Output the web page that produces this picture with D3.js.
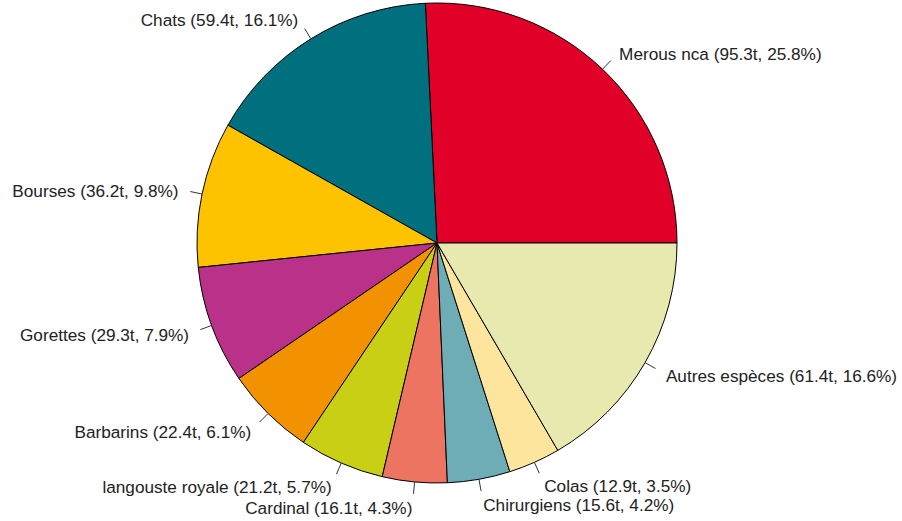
<!DOCTYPE html>
<html><head><meta charset="utf-8">
<script src="https://cdn.jsdelivr.net/npm/d3@7"></script>
<style>body{margin:0;background:#fff}</style>
</head><body>
<svg id="c" width="902" height="521"></svg>
<script>
const categories = ["Merous nca","Chats","Bourses","Gorettes","Barbarins","langouste royale","Cardinal","Chirurgiens","Colas","Autres espèces"];
const tonnes = [95.3,59.4,36.2,29.3,22.4,21.2,16.1,15.6,12.9,61.4];
const percents = [25.8,16.1,9.8,7.9,6.1,5.7,4.3,4.2,3.5,16.6];
const colors = ["#E10028","#00707E","#FDC200","#BA318A","#F39200","#C8CF14","#EC7460","#6EACB6","#FEE59E","#E8E9AF"];

const svg = d3.select("#c");
const cx = 437, cy = 243, r = 240;
const g = svg.append("g").attr("transform", `translate(${cx},${cy})`);
const pie = d3.pie().sort(null).startAngle(Math.PI/2).endAngle(Math.PI/2 - 2*Math.PI);
const arcs = pie(tonnes);
const arc = d3.arc().innerRadius(0).outerRadius(r);
g.selectAll("path.s").data(arcs).join("path")
  .attr("d", arc)
  .attr("fill", (d,i)=>colors[i])
  .attr("stroke", "#000").attr("stroke-width", 1).attr("stroke-linejoin","round");

arcs.forEach((d,i)=>{
  const a = (d.startAngle + d.endAngle)/2; // d3 angle: 0 at top, clockwise
  const sx = Math.sin(a), sy = -Math.cos(a);
  g.append("line")
    .attr("x1", r*sx).attr("y1", r*sy)
    .attr("x2", 1.05*r*sx).attr("y2", 1.05*r*sy)
    .attr("stroke", "#333").attr("stroke-width", 1);
  g.append("text")
    .attr("x", 1.1*r*sx).attr("y", 1.1*r*sy)
    .attr("dy", "0.45em")
    .attr("text-anchor", sx < 0 ? "end" : "start")
    .attr("font-family", "Liberation Sans, Arial, sans-serif")
    .attr("font-size", 17.2)
    .attr("fill", "#222")
    .text(`${categories[i]} (${tonnes[i].toFixed(1)}t, ${percents[i].toFixed(1)}%)`);
});
</script>
</body></html>
